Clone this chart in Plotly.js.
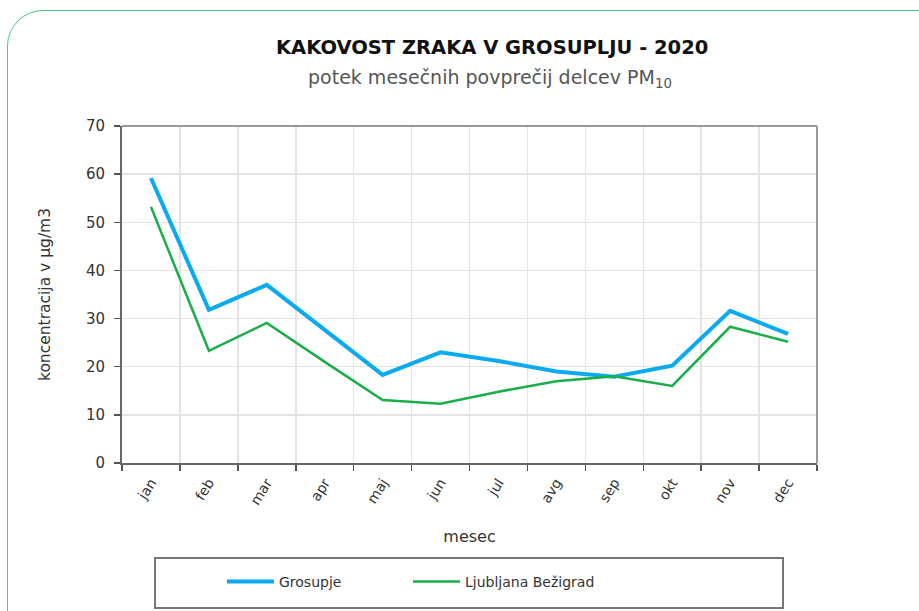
<!DOCTYPE html>
<html><head><meta charset="utf-8">
<script src="https://cdn.plot.ly/plotly-3.0.1.min.js"></script>
<style>
html,body{margin:0;padding:0;background:#fff;overflow:hidden;}
#card{position:absolute;left:7px;top:10px;width:950px;height:650px;border:1.5px solid #4cc78a;border-radius:36px;box-sizing:border-box;}
#chart{position:absolute;left:0;top:0;width:919px;height:611px;}
</style></head>
<body>
<div id="card"></div>
<div id="chart"></div>
<script>
const months = ['jan','feb','mar','apr','maj','jun','jul','avg','sep','okt','nov','dec'];
const grosupje = [59.2, 31.8, 37.0, 27.6, 18.3, 23.0, 21.2, 19.0, 17.9, 20.2, 31.6, 26.8];
const ljubljana = [53.2, 23.3, 29.1, 21.0, 13.1, 12.3, 14.8, 17.0, 18.0, 16.0, 28.3, 25.2];
const seriesNames = ['Grosupje', 'Ljubljana Bežigrad'];
const yTicks = [0,10,20,30,40,50,60,70];

const font = 'DejaVu Sans, Liberation Sans, Arial, sans-serif';
const traces = [
  {x: months, y: grosupje, name: seriesNames[0], type: 'scatter', mode: 'lines', legend: 'legend',
   line: {color: '#0aaaf0', width: 4}},
  {x: months, y: ljubljana, name: seriesNames[1], type: 'scatter', mode: 'lines', legend: 'legend2',
   line: {color: '#1aae48', width: 2.5}}
];
const legendBase = {orientation: 'h', xref: 'container', yref: 'container', xanchor: 'left',
  y: (611-582)/611, yanchor: 'middle', bgcolor: 'rgba(0,0,0,0)', borderwidth: 0,
  font: {size: 14, color: '#333', family: font}, itemwidth: 47};
const layout = {
  width: 919, height: 611,
  paper_bgcolor: 'rgba(0,0,0,0)', plot_bgcolor: 'rgba(0,0,0,0)',
  margin: {l: 122, r: 102, t: 126, b: 148, autoexpand: false},
  font: {family: font, color: '#333', size: 13},
  showlegend: true,
  legend: Object.assign({}, legendBase, {x: 222/919}),
  legend2: Object.assign({}, legendBase, {x: 408/919}),
  xaxis: {type: 'category', range: [-0.5, 11.5], tickson: 'boundaries', ticks: 'outside', ticklen: 6,
    tickcolor: '#555', tickwidth: 1.5, showgrid: true, gridcolor: '#e4e4e4', gridwidth: 1.5,
    showline: true, linecolor: '#666', linewidth: 2, tickangle: -58, zeroline: false, automargin: false,
    ticklabelstandoff: 4, tickfont: {size: 14, color: '#333', family: font},
    title: {text: 'mesec', font: {size: 16, color: '#333', family: font}, standoff: 24}},
  yaxis: {range: [0, 70], tickvals: yTicks, ticks: 'outside', ticklen: 6, tickcolor: '#555', tickwidth: 1.5,
    showgrid: true, gridcolor: '#e4e4e4', gridwidth: 1.5, showline: true, linecolor: '#666', linewidth: 2,
    zeroline: false, automargin: false, ticklabelstandoff: 6, tickfont: {size: 15, color: '#333', family: font},
    title: {text: 'koncentracija v µg/m3', font: {size: 15.5, color: '#333', family: font}, standoff: 31}},
  shapes: [
    {type: 'line', xref: 'paper', yref: 'paper', x0: 0, x1: 1, y0: 1, y1: 1, line: {color: '#999', width: 2}},
    {type: 'line', xref: 'paper', yref: 'paper', x0: 1, x1: 1, y0: 0, y1: 1, line: {color: '#999', width: 2}},
    {type: 'rect', xref: 'paper', yref: 'paper', x0: (155-122)/695, x1: (783-122)/695,
     y0: (463-608)/337, y1: (463-558)/337, line: {color: '#777', width: 2}, fillcolor: 'rgba(0,0,0,0)'}
  ],
  annotations: [
    {text: '<b>KAKOVOST ZRAKA V GROSUPLJU - 2020</b>', xref: 'paper', yref: 'paper',
     x: (492-122)/695, y: (463-47)/337, xanchor: 'center', yanchor: 'middle', showarrow: false,
     font: {size: 19.5, color: '#111', family: font}},
    {text: 'potek mesečnih povprečij delcev PM<sub>10</sub>', xref: 'paper', yref: 'paper',
     x: (490-122)/695, y: (463-79)/337, xanchor: 'center', yanchor: 'middle', showarrow: false,
     font: {size: 19, color: '#555', family: font}}
  ]
};
Plotly.newPlot('chart', traces, layout, {displayModeBar: false, staticPlot: true});
</script>
</body></html>
